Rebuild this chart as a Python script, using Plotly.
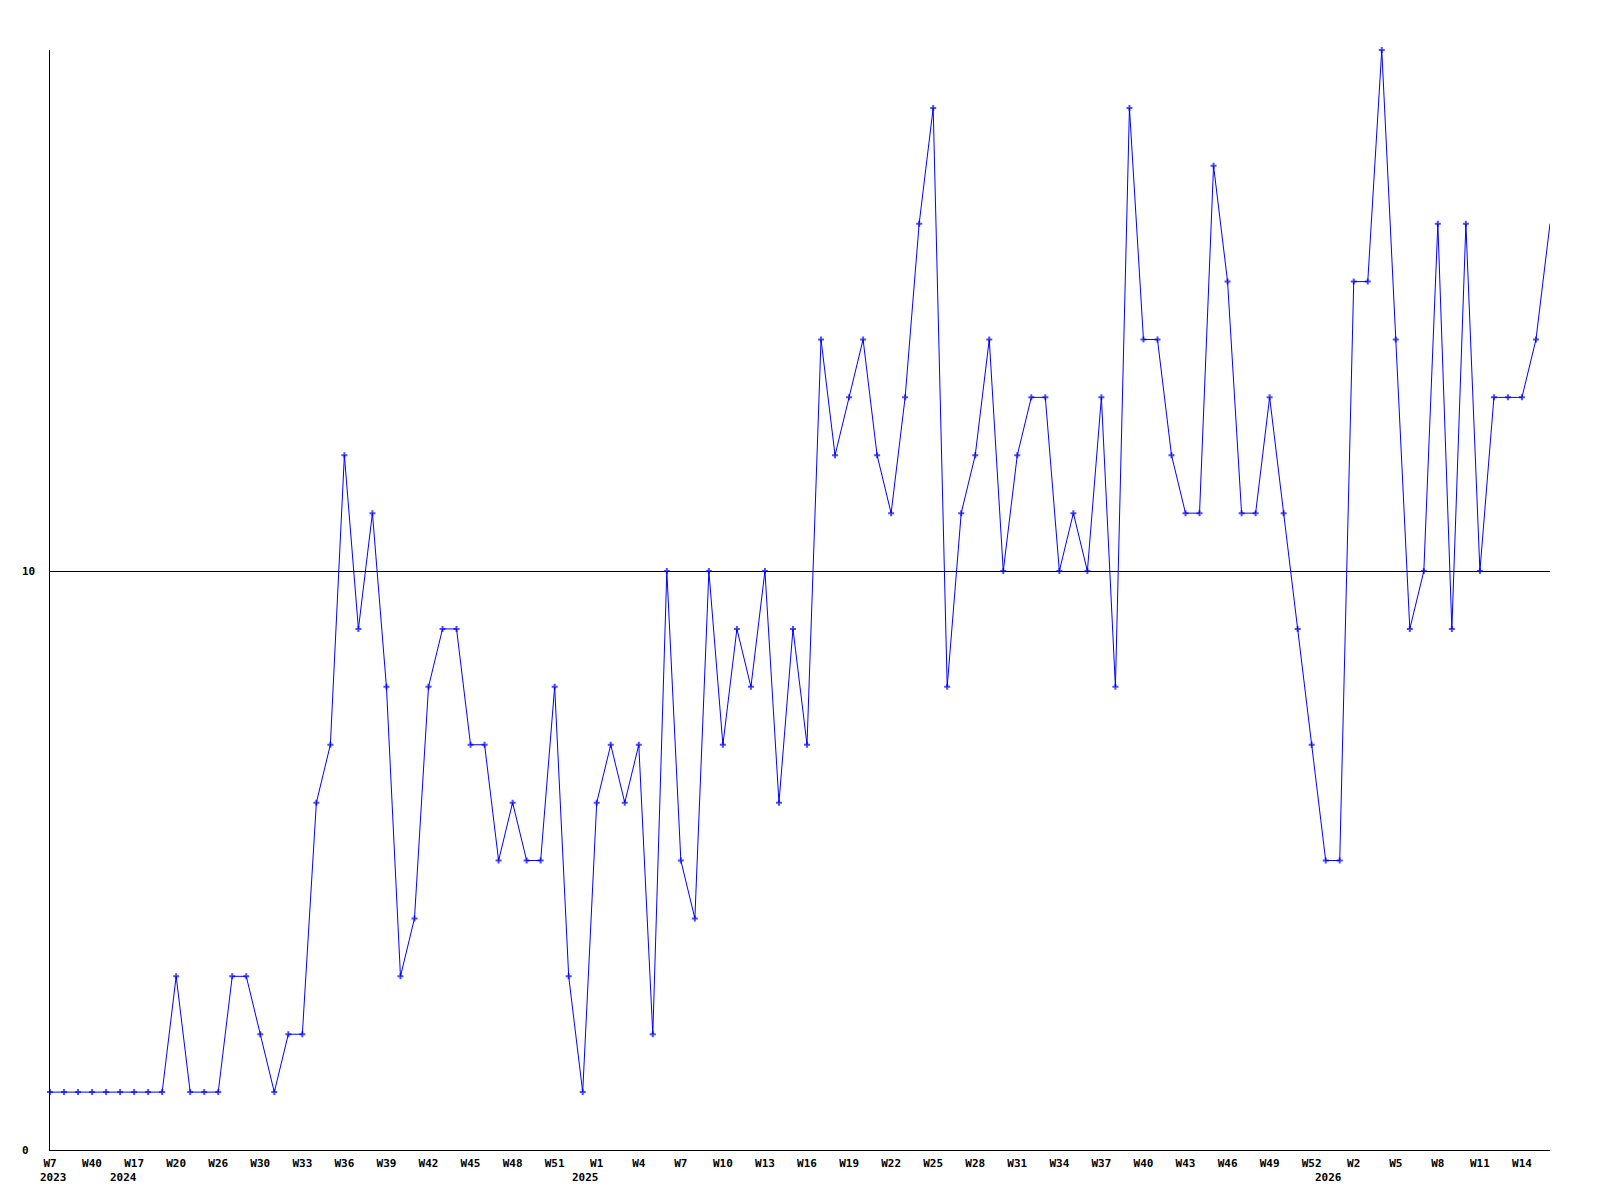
import plotly.graph_objects as go

weeks = [
    "W7 2023", "W12 2023", "W27 2023", "W40 2023", "W46 2023", "W3 2024", "W17 2024", "W18 2024", "W19 2024",
    "W20 2024", "W22 2024", "W24 2024", "W26 2024", "W27 2024", "W28 2024", "W30 2024", "W31 2024", "W32 2024",
    "W33 2024", "W34 2024", "W35 2024", "W36 2024", "W37 2024", "W38 2024", "W39 2024", "W40 2024", "W41 2024",
    "W42 2024", "W43 2024", "W44 2024", "W45 2024", "W46 2024", "W47 2024", "W48 2024", "W49 2024", "W50 2024",
    "W51 2024", "W52 2024", "W0 2025", "W1 2025", "W2 2025", "W3 2025", "W4 2025", "W5 2025", "W6 2025",
    "W7 2025", "W8 2025", "W9 2025", "W10 2025", "W11 2025", "W12 2025", "W13 2025", "W14 2025", "W15 2025",
    "W16 2025", "W17 2025", "W18 2025", "W19 2025", "W20 2025", "W21 2025", "W22 2025", "W23 2025", "W24 2025",
    "W25 2025", "W26 2025", "W27 2025", "W28 2025", "W29 2025", "W30 2025", "W31 2025", "W32 2025", "W33 2025",
    "W34 2025", "W35 2025", "W36 2025", "W37 2025", "W38 2025", "W39 2025", "W40 2025", "W41 2025", "W42 2025",
    "W43 2025", "W44 2025", "W45 2025", "W46 2025", "W47 2025", "W48 2025", "W49 2025", "W50 2025", "W51 2025",
    "W52 2025", "W0 2026", "W1 2026", "W2 2026", "W3 2026", "W4 2026", "W5 2026", "W6 2026", "W7 2026",
    "W8 2026", "W9 2026", "W10 2026", "W11 2026", "W12 2026", "W13 2026", "W14 2026", "W15 2026", "W16 2026",
]

values = [
    1, 1, 1, 1, 1, 1, 1, 1, 1,
    3, 1, 1, 1, 3, 3, 2, 1, 2,
    2, 6, 7, 12, 9, 11, 8, 3, 4,
    8, 9, 9, 7, 7, 5, 6, 5, 5,
    8, 3, 1, 6, 7, 6, 7, 2, 10,
    5, 4, 10, 7, 9, 8, 10, 6, 9,
    7, 14, 12, 13, 14, 12, 11, 13, 16,
    18, 8, 11, 12, 14, 10, 12, 13, 13,
    10, 11, 10, 13, 8, 18, 14, 14, 12,
    11, 11, 17, 15, 11, 11, 13, 11, 9,
    7, 5, 5, 15, 15, 19, 14, 9, 10,
    16, 9, 16, 10, 13, 13, 13, 14, 16,
]

tick_labels = [
    "W7", "W40", "W17", "W20", "W26", "W30", "W33", "W36", "W39",
    "W42", "W45", "W48", "W51", "W1", "W4", "W7", "W10", "W13",
    "W16", "W19", "W22", "W25", "W28", "W31", "W34", "W37", "W40",
    "W43", "W46", "W49", "W52", "W2", "W5", "W8", "W11", "W14",
]

y_ticks = [0, 10]

n = len(values)
x_idx = list(range(n))
tick_pos = list(range(0, n, 3))[:len(tick_labels)]
marker_sizes = [5] * (n - 1) + [0]

# first point of each year -> year label position
year_first = {}
for i, w in enumerate(weeks):
    yr = w.split()[1]
    if yr not in year_first:
        year_first[yr] = i

font_family = "DejaVu Sans Mono"
bold_font = dict(family=font_family, size=11, color="black", weight="bold")

fig = go.Figure()
fig.add_trace(go.Scatter(
    x=x_idx, y=values, mode="lines+markers",
    line=dict(color="#0000ff", width=1),
    marker=dict(symbol="cross", size=marker_sizes, color="#0000ff", line=dict(width=0)),
    text=weeks, hoverinfo="text+y",
    cliponaxis=False,
))

fig.update_layout(
    width=1600, height=1200,
    margin=dict(l=42, r=58, t=42, b=58),
    plot_bgcolor="white", paper_bgcolor="white",
    showlegend=False,
    font=dict(family=font_family, size=11, color="black"),
)
fig.update_xaxes(
    range=[0, n - 1],
    tickmode="array", tickvals=tick_pos, ticktext=tick_labels,
    showgrid=False, zeroline=False,
    showline=True, linecolor="black", linewidth=1,
    ticks="", ticklabelstandoff=3, tickangle=0,
    tickfont=bold_font,
)
fig.update_yaxes(
    range=[0, 19],
    tickmode="array", tickvals=y_ticks, showticklabels=False,
    showgrid=True, gridcolor="black", gridwidth=1,
    zeroline=False,
    showline=True, linecolor="black", linewidth=1,
    ticks="",
)
for v in y_ticks:
    fig.add_annotation(
        x=-0.02, xref="paper", y=v, yref="y",
        text=str(v), showarrow=False, xanchor="left", yanchor="middle",
        font=bold_font,
    )
for yr, i in year_first.items():
    fig.add_annotation(
        x=i, xref="x", y=0, yref="paper",
        text=yr, showarrow=False, xanchor="center", yanchor="middle",
        xshift=3, yshift=-27,
        font=bold_font,
    )

fig.write_html("out.html")
